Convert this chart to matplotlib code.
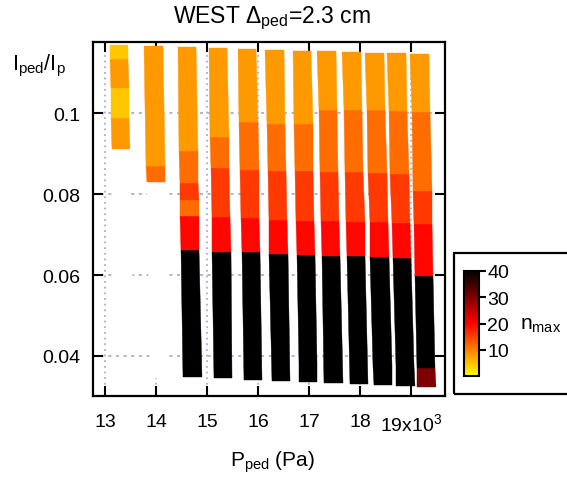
import numpy as np
import matplotlib
matplotlib.use('Agg')
import matplotlib.pyplot as plt
from matplotlib.colors import LinearSegmentedColormap
from matplotlib.patches import Rectangle

plt.rcParams['font.family'] = ['Liberation Sans', 'DejaVu Sans']
plt.rcParams['mathtext.default'] = 'regular'

# Pedestal pressure (x10^3 Pa) at the top and bottom of each scanned column
p_top = [13.264, 13.939, 14.595, 15.211, 15.779, 16.317, 16.855, 17.335, 17.824, 18.274, 18.704, 19.159]
p_bot = [13.356, 14.049, 14.703, 15.309, 15.896, 16.444, 16.973, 17.472, 17.971, 18.440, 18.881, 19.292]
p_width = 0.36

# I_ped/I_p cell edges for each column (bottom -> top)
ip_edges = [
    [0.04800, 0.09110, 0.09876, 0.10618, 0.11335, 0.11681],
    [0.03450, 0.08294, 0.08690, 0.11656],
    [0.03473, 0.06613, 0.07454, 0.07849, 0.08269, 0.09061, 0.11632],
    [0.03449, 0.06564, 0.07429, 0.08640, 0.09407, 0.11607],
    [0.03399, 0.06564, 0.07404, 0.08591, 0.09778, 0.11582],
    [0.03375, 0.06514, 0.07355, 0.08566, 0.09728, 0.11557],
    [0.03350, 0.03820, 0.06489, 0.07330, 0.08566, 0.09728, 0.11533],
    [0.03325, 0.06465, 0.07330, 0.08541, 0.10074, 0.11533],
    [0.03300, 0.06465, 0.07305, 0.08541, 0.10074, 0.11508],
    [0.03276, 0.03745, 0.06440, 0.07305, 0.08517, 0.10074, 0.11483],
    [0.03251, 0.03745, 0.06415, 0.07281, 0.08492, 0.10049, 0.11483],
    [0.03226, 0.03696, 0.05970, 0.07256, 0.08072, 0.10025, 0.11459],
]
# n_max of each cell (bottom -> top); nan = no result (blank cell)
nmax = [
    [np.nan, 8, 4.5, 8, 4.5],
    [np.nan, 11.5, 8],
    [40, 19.5, 11.5, 15.5, 11.5, 8],
    [40, 19.5, 15.5, 11.5, 8],
    [40, 19.5, 15.5, 11.5, 8],
    [40, 19.5, 15.5, 11.5, 8],
    [45, 40, 19.5, 15.5, 11.5, 8],
    [40, 19.5, 15.5, 11.5, 8],
    [40, 19.5, 15.5, 11.5, 8],
    [45, 40, 19.5, 15.5, 11.5, 8],
    [45, 40, 19.5, 15.5, 11.5, 8],
    [30, 40, 19.5, 15.5, 11.5, 8],
]

x_ticks = [13, 14, 15, 16, 17, 18, 19]
x_labels = ['13', '14', '15', '16', '17', '18', '19x10$^3$']
y_ticks = [0.04, 0.06, 0.08, 0.1]
y_labels = ['0.04', '0.06', '0.08', '0.1']
cbar_ticks = [10, 20, 30, 40]

cmap = LinearSegmentedColormap.from_list(
    'ylrdbk', [(0.0, (1, 1, 0)), (0.5, (1, 0, 0)), (1.0, (0, 0, 0))], N=256)
cmap.set_bad('white')

W, H = 567, 481
fig = plt.figure(figsize=(W / 100, H / 100), dpi=100)
ax = fig.add_axes([93 / W, 1 - 397 / H, (445 - 93) / W, (397 - 43) / H])

for xg in x_ticks:
    ax.axvline(xg, color='#98a0c8', lw=1.1, ls=(0, (1.2, 2.5)), zorder=0)
for yg in y_ticks:
    ax.axhline(yg, color='#98a0c8', lw=1.1, ls=(0, (2, 3)), zorder=0)

mesh = None
for i in range(len(p_top)):
    y = np.array(ip_edges[i])
    frac = (y - y[0]) / (y[-1] - y[0])
    xc = p_bot[i] + frac * (p_top[i] - p_bot[i])
    X = np.column_stack([xc - p_width / 2, xc + p_width / 2])
    Y = np.column_stack([y, y])
    C = np.ma.masked_invalid(np.array(nmax[i], dtype=float)[:, None])
    mesh = ax.pcolormesh(X, Y, C, cmap=cmap, vmin=0, vmax=40, shading='flat',
                         zorder=2, antialiased=True, edgecolors='face', linewidth=0.3)

ax.set_xlim(12.755, 19.657)
ax.set_ylim(0.0301, 0.1176)
ax.set_xticks(x_ticks)
ax.set_xticklabels(x_labels)
ax.set_yticks(y_ticks)
ax.set_yticklabels(y_labels)
ax.tick_params(axis='both', direction='in', top=True, right=True, length=7,
               width=1.5, labelsize=14, colors='black')
ax.tick_params(axis='x', pad=12)
ax.tick_params(axis='y', pad=9)
for s in ax.spines.values():
    s.set_linewidth(1.6)
    s.set_zorder(5)

fig.text(272 / W, 1 - 23 / H, 'WEST $\\Delta_{ped}$=2.3 cm', ha='center',
         va='baseline', fontsize=16.5)
fig.text(12 / W, 1 - 70 / H, 'I$_{ped}$/I$_p$', ha='left', va='baseline', fontsize=15.5)
fig.text(272 / W, 1 - 467 / H, 'P$_{ped}$ (Pa)', ha='center', va='baseline', fontsize=15)

# colorbar frame
frame = Rectangle((454 / W, 1 - 395 / H), 0.4, (395 - 254) / H, transform=fig.transFigure,
                  fill=False, edgecolor='black', lw=1.6, clip_on=False)
fig.patches.append(frame)

cax = fig.add_axes([464 / W, 1 - 377 / H, 15 / W, (377 - 272) / H])
cb = fig.colorbar(mesh, cax=cax, ticks=cbar_ticks)
cb.outline.set_linewidth(1.5)
cax.tick_params(direction='out', length=5, width=1.5, labelsize=14, pad=1)
fig.text(520 / W, 1 - 330 / H, 'n$_{max}$', ha='left', va='baseline', fontsize=15)

fig.savefig('out.png', dpi=100)
